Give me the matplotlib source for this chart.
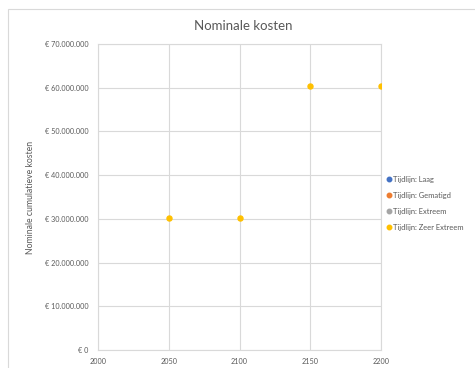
import matplotlib
matplotlib.use("Agg")
import matplotlib.pyplot as plt
from matplotlib.patches import Rectangle
from matplotlib.ticker import FuncFormatter, MultipleLocator

plt.rcParams['font.family'] = ['Lato', 'DejaVu Sans']

# Series data (year -> nominal cumulative cost in euro)
series_names = ["Tijdlijn: Laag", "Tijdlijn: Gematigd", "Tijdlijn: Extreem", "Tijdlijn: Zeer Extreem"]
series_colors = ["#4472C4", "#ED7D31", "#A5A5A5", "#FFC000"]
years_laag, costs_laag = [], []
years_gematigd, costs_gematigd = [], []
years_extreem, costs_extreem = [], []
years_zeer, costs_zeer = [2050, 2100, 2150, 2200], [30_200_000, 30_200_000, 60_400_000, 60_400_000]

series_x = [years_laag, years_gematigd, years_extreem, years_zeer]
series_y = [costs_laag, costs_gematigd, costs_extreem, costs_zeer]

text_color = "#595959"
grid_color = "#D9D9D9"

fig = plt.figure(figsize=(4.75, 3.68), dpi=100)
fig.patch.set_facecolor("white")
fig.patches.append(Rectangle((8 / 475, -0.01), 1.0, 1 - 9 / 368 + 0.01,
                             transform=fig.transFigure, fill=False,
                             edgecolor=grid_color, linewidth=0.8))

ax = fig.add_axes([98 / 475, 1 - 350 / 368, (381 - 98) / 475, (350 - 44) / 368])

for name, color, xs, ys in zip(series_names, series_colors, series_x, series_y):
    ax.plot(xs, ys, linestyle="none", marker="o", markersize=3.6,
            markerfacecolor=color, markeredgecolor=color, label=name, zorder=3)

ax.set_xlim(2000, 2200)
ax.set_ylim(0, 70_000_000)
ax.xaxis.set_major_locator(MultipleLocator(50))
ax.yaxis.set_major_locator(MultipleLocator(10_000_000))


def euro(v, _pos):
    if v == 0:
        return "€ 0"
    return "€ " + f"{int(round(v)):,}".replace(",", ".")


ax.yaxis.set_major_formatter(FuncFormatter(euro))
ax.grid(True, color=grid_color, linewidth=0.8, zorder=0)
for side in ax.spines.values():
    side.set_color(grid_color)
    side.set_linewidth(0.8)
ax.tick_params(length=0, labelsize=5.2, colors=text_color)
ax.tick_params(axis="y", pad=7)
ax.tick_params(axis="x", pad=6)

ax.set_ylabel("Nominale cumulatieve kosten", fontsize=6.2, color=text_color, labelpad=7)
fig.text(243 / 475, 1 - 26 / 368, "Nominale kosten", ha="center", va="center",
         fontsize=9.5, color=text_color)

leg = ax.legend(loc="center left", bbox_to_anchor=(1.0, 0.48), frameon=False,
                fontsize=5.4, labelcolor=text_color, handlelength=0.6,
                handletextpad=0.25, labelspacing=1.2, borderaxespad=0.3,
                markerscale=0.9)

fig.savefig("out.png", dpi=100, facecolor="white")
